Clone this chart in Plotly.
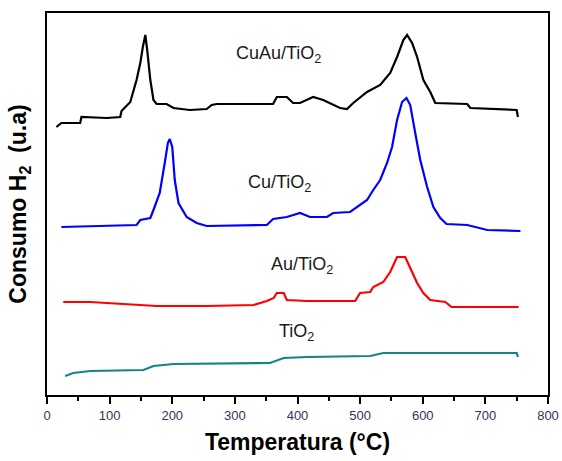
import plotly.graph_objects as go

# Temperature (°C) and H2 consumption (arbitrary units)
cuau_T = [15, 23, 53, 55, 95, 117, 119, 133, 143, 149, 153, 157, 160, 165, 170, 175, 191, 202, 228, 255,
          263, 271, 361, 367, 383, 393, 404, 425, 441, 468, 479, 489, 511, 532, 548, 559, 569, 575, 583,
          591, 601, 612, 620, 671, 676, 750, 752]
cuau_y = [268, 272, 272, 278, 277, 278, 284, 293, 315, 332, 348, 360, 345, 315, 295, 291, 291, 287, 285, 286,
          290, 291, 291, 298, 298, 292, 292, 298, 295, 287, 286, 292, 303, 310, 322, 338, 355, 360, 352,
          338, 315, 303, 292, 291, 287, 285, 278]

cu_T = [23, 143, 149, 165, 170, 180, 188, 193, 196, 200, 204, 210, 223, 239, 255, 351, 361, 383, 404, 420,
        447, 457, 484, 495, 511, 521, 532, 543, 551, 559, 567, 574, 580, 588, 596, 607, 617, 628, 638, 671,
        703, 756]
cu_y = [168, 170, 175, 177, 185, 202, 232, 252, 256, 248, 215, 192, 178, 172, 169, 170, 176, 178, 182, 178,
        178, 182, 183, 188, 195, 205, 215, 232, 248, 275, 293, 297, 290, 262, 235, 208, 188, 177, 171, 170,
        165, 164]

au_T = [26, 69, 122, 175, 255, 330, 351, 362, 367, 378, 383, 415, 492, 500, 516, 521, 537, 548, 559, 572,
        580, 591, 601, 612, 636, 646, 753]
au_y = [93, 93, 91, 89, 89, 90, 94, 97, 102, 102, 95, 94, 94, 102, 103, 108, 113, 123, 138, 138,
        127, 112, 102, 95, 93, 88, 88]

tio2_T = [29, 42, 69, 154, 170, 202, 356, 378, 415, 516, 537, 750, 752]
tio2_y = [19, 22, 24, 25, 29, 31, 32, 37, 38, 39, 42, 42, 38]

series = [
    ("CuAu/TiO<sub>2</sub>", cuau_T, cuau_y, "#000000", 370, 341),
    ("Cu/TiO<sub>2</sub>", cu_T, cu_y, "#0000ff", 372, 212),
    ("Au/TiO<sub>2</sub>", au_T, au_y, "#ff0000", 407, 130),
    ("TiO<sub>2</sub>", tio2_T, tio2_y, "#138585", 399, 63),
]

x_ticks = [0, 100, 200, 300, 400, 500, 600, 700, 800]

fig = go.Figure()
annotations = []
for name, xs, ys, col, lx, ly in series:
    fig.add_trace(go.Scatter(x=xs, y=ys, mode="lines", line=dict(color=col, width=2.2), name=name,
                             showlegend=False))
    annotations.append(dict(x=lx, y=ly, xref="x", yref="y", text=name, showarrow=False,
                            font=dict(family="Liberation Sans, Arial", size=18, color="#1a1a1a")))

fig.update_layout(
    width=562, height=461,
    margin=dict(l=47, r=14, t=13, b=66, autoexpand=False),
    paper_bgcolor="white", plot_bgcolor="white",
    annotations=annotations,
    xaxis=dict(range=[0, 800], tickvals=x_ticks, ticktext=[str(v) for v in x_ticks],
               showline=True, linecolor="black", linewidth=2, mirror=True,
               ticks="outside", ticklen=7, tickwidth=2, tickcolor="black",
               minor=dict(dtick=50, ticks="outside", ticklen=4, tickwidth=2, tickcolor="black"),
               showgrid=False, zeroline=False, automargin=False,
               tickfont=dict(family="Liberation Sans, Arial", size=13, color="#34345a"),
               title=dict(text="<b>Temperatura (°C)</b>", standoff=12,
                          font=dict(family="Liberation Sans, Arial", size=23, color="black"))),
    yaxis=dict(range=[0, 382], showline=True, linecolor="black", linewidth=2, mirror=True,
               ticks="", showticklabels=False, showgrid=False, zeroline=False, automargin=False,
               title=dict(text="<b>Consumo H<sub>2</sub>  (u.a)</b>", standoff=12,
                          font=dict(family="Liberation Sans, Arial", size=23, color="black"))),
)

fig.write_html("out.html", config={"displayModeBar": False, "staticPlot": True},
               post_script="document.body.style.margin='0';document.body.style.overflow='hidden';")
